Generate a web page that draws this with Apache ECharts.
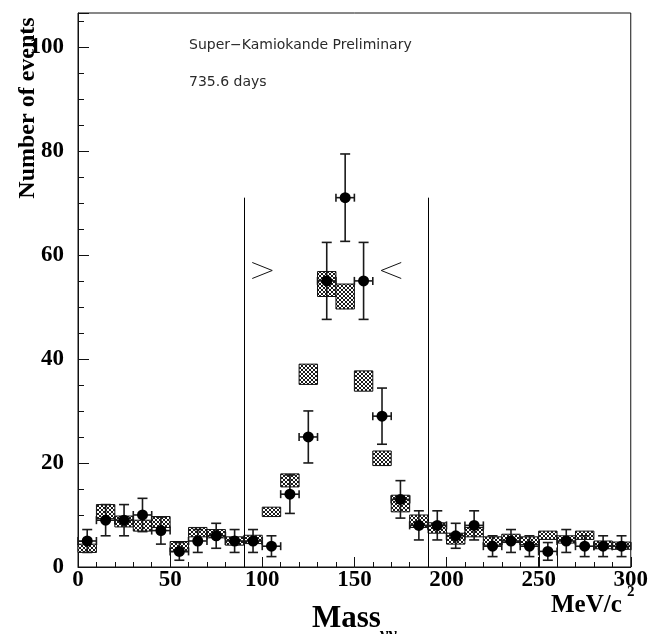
<!DOCTYPE html>
<html>
<head>
<meta charset="utf-8">
<script src="https://cdn.jsdelivr.net/npm/echarts@6/dist/echarts.min.js"></script>
<style>
html,body{margin:0;padding:0;background:#fff;}
#chart{width:651px;height:634px;}
</style>
</head>
<body>
<div id="chart"></div>
<script>
// ---- data ----
const binCenters = [5,15,25,35,45,55,65,75,85,95,105,115,125,135,145,155,165,175,185,195,205,215,225,235,245,255,265,275,285,295];
const dataCounts = [5,9,9,10,7,3,5,6,5,5,4,14,25,55,71,55,29,13,8,8,6,8,4,5,4,3,5,4,4,4];
const dataErrors = [2.2,3.0,3.0,3.2,2.6,1.7,2.2,2.4,2.2,2.2,2.0,3.7,5.0,7.4,8.4,7.4,5.4,3.6,2.8,2.8,2.4,2.8,2.0,2.2,2.0,1.7,2.2,2.0,2.0,2.0];
const mcLow  = [2.8,9.3,7.7,6.9,7.6,2.9,5.8,5.6,4.2,4.5,9.7,15.4,35.1,52.0,49.6,33.8,19.5,10.6,7.6,6.5,4.4,5.8,4.2,4.7,4.3,5.3,4.6,5.3,3.5,3.4];
const mcHigh = [4.4,12.0,9.8,9.0,9.7,4.9,7.6,7.2,5.8,6.1,11.5,17.9,39.0,56.8,54.4,37.7,22.3,13.8,10.0,8.5,6.5,7.6,5.8,6.3,5.8,6.9,6.0,6.9,5.0,4.8];
const binHalfWidth = 5;
const cutValues = [90, 190];
const cutHeight = 71;
const arrowRight = [100, 57];   // ">"
const arrowLeft  = [170, 57];   // "<"
const outlineSegs = [[50, 0, 2.9], [250, 0, 5.3], [260, 0, 5.3]];
const xTicks = [0, 50, 100, 150, 200, 250, 300];
const yTicks = [0, 20, 40, 60, 80, 100];

// ---- hatch pattern ----
function makeHatch() {
  const c = document.createElement('canvas');
  c.width = 4; c.height = 4;
  const g = c.getContext('2d');
  g.fillStyle = '#fff'; g.fillRect(0,0,4,4);
  g.fillStyle = '#1a1a1a';
  const px = [[0,0],[1,1],[2,2],[3,3],[3,0],[2,1],[1,2],[0,3]];
  px.forEach(p => g.fillRect(p[0], p[1], 1, 1));
  return c;
}
const hatch = makeHatch();

const chart = echarts.init(document.getElementById('chart'), null, {renderer: 'canvas'});
const serif = '"Liberation Serif", "Times New Roman", serif';
const ink = '#111';
const snap = v => Math.round(v) + 0.5;

const mcData = binCenters.map((c, i) => [c, mcLow[i], mcHigh[i]]);
const ptData = binCenters.map((c, i) => [c, dataCounts[i], dataErrors[i]]);

const option = {
  animation: false,
  backgroundColor: '#fff',
  grid: {left: 78, right: 19, top: 13, bottom: 67, show: true, borderColor: ink, borderWidth: 1, backgroundColor: 'transparent'},
  xAxis: {
    type: 'value', min: 0, max: 300, interval: 50,
    axisLine: {lineStyle: {color: ink, width: 1}},
    axisTick: {inside: true, length: 10, lineStyle: {color: ink, width: 1}},
    minorTick: {show: true, splitNumber: 5, length: 5, lineStyle: {color: ink, width: 1}},
    axisLabel: {fontFamily: serif, fontWeight: 'bold', fontSize: 23, color: '#000', margin: 2,
      formatter: v => xTicks.indexOf(v) >= 0 ? String(v) : ''},
    splitLine: {show: false}
  },
  yAxis: [{
    type: 'value', min: 0, max: 106.5, interval: 20,
    axisLine: {show: true, lineStyle: {color: ink, width: 1}},
    axisTick: {inside: true, length: 11, lineStyle: {color: ink, width: 1}},
    axisLabel: {fontFamily: serif, fontWeight: 'bold', fontSize: 23, color: '#000', margin: 14,
      formatter: v => yTicks.indexOf(v) >= 0 ? String(v) : ''},
    splitLine: {show: false}
  }, {
    type: 'value', min: 0, max: 106.5, interval: 5, position: 'left',
    axisLine: {show: false},
    axisTick: {inside: true, length: 6, lineStyle: {color: ink, width: 1}},
    axisLabel: {show: false},
    splitLine: {show: false}
  }],
  graphic: [
    {type: 'text', left: 189, top: 38, style: {text: 'Super\u2212Kamiokande Preliminary', font: '14px "DejaVu Sans"', fill: '#2a2a2a'}},
    {type: 'text', left: 189, top: 75, style: {text: '735.6 days', font: '14px "DejaVu Sans"', fill: '#2a2a2a'}},
    {type: 'text', x: 28, y: 108, rotation: Math.PI / 2,
      style: {text: 'Number of events', font: 'bold 24px ' + serif, fill: '#000', align: 'center', verticalAlign: 'middle'}},
    {type: 'text', left: 312, top: 603, style: {text: 'Mass', font: 'bold 31px ' + serif, fill: '#000'}},
    {type: 'text', left: 380, top: 626, style: {text: '\u03b3\u03b3', font: 'bold 18px ' + serif, fill: '#000'}},
    {type: 'text', left: 551, top: 593, style: {text: 'MeV/c', font: 'bold 25px ' + serif, fill: '#000'}},
    {type: 'text', left: 627, top: 585, style: {text: '2', font: 'bold 15px ' + serif, fill: '#000'}}
  ],
  series: [
    {
      type: 'custom', name: 'MC', xAxisIndex: 0, yAxisIndex: 0,
      data: mcData, z: 2,
      renderItem: function (params, api) {
        const c = api.value(0), lo = api.value(1), hi = api.value(2);
        const p0 = api.coord([c - binHalfWidth, hi]);
        const p1 = api.coord([c + binHalfWidth, lo]);
        return {type: 'rect', shape: {x: p0[0], y: p0[1], width: p1[0] - p0[0], height: p1[1] - p0[1]},
          style: {fill: {image: hatch, repeat: 'repeat'}, stroke: ink, lineWidth: 1}};
      }
    },
    {
      type: 'custom', name: 'outline', xAxisIndex: 0, yAxisIndex: 0,
      data: outlineSegs, z: 2,
      renderItem: function (params, api) {
        const a = api.coord([api.value(0), api.value(1)]);
        const b = api.coord([api.value(0), api.value(2)]);
        return {type: 'line', shape: {x1: snap(a[0]), y1: a[1], x2: snap(b[0]), y2: b[1]}, style: {stroke: ink, lineWidth: 1}};
      }
    },
    {
      type: 'custom', name: 'cuts', xAxisIndex: 0, yAxisIndex: 0,
      data: cutValues.map(v => [v, cutHeight]), z: 3,
      renderItem: function (params, api) {
        const a = api.coord([api.value(0), 0]);
        const b = api.coord([api.value(0), api.value(1)]);
        return {type: 'line', shape: {x1: snap(a[0]), y1: a[1], x2: snap(b[0]), y2: b[1]}, style: {stroke: '#000', lineWidth: 1}};
      }
    },
    {
      type: 'custom', name: 'arrows', xAxisIndex: 0, yAxisIndex: 0,
      data: [[arrowRight[0], arrowRight[1], 1], [arrowLeft[0], arrowLeft[1], -1]], z: 3,
      renderItem: function (params, api) {
        const p = api.coord([api.value(0), api.value(1)]);
        const d = api.value(2);
        const w = 10, h = 8;
        return {type: 'polyline', shape: {points: [[p[0] - d * w, p[1] - h], [p[0] + d * w, p[1]], [p[0] - d * w, p[1] + h]]},
          style: {stroke: ink, lineWidth: 1, fill: null}};
      }
    },
    {
      type: 'custom', name: 'data', xAxisIndex: 0, yAxisIndex: 0,
      data: ptData, z: 5,
      renderItem: function (params, api) {
        const c = api.value(0), v = api.value(1), e = api.value(2);
        const pc = api.coord([c, v]);
        const top = api.coord([c, v + e]);
        const bot = api.coord([c, Math.max(0, v - e)]);
        const l = api.coord([c - binHalfWidth, v]);
        const r = api.coord([c + binHalfWidth, v]);
        const cw = 5, st = {stroke: '#1a1a1a', lineWidth: 1.6};
        return {type: 'group', children: [
          {type: 'line', shape: {x1: pc[0], y1: top[1], x2: pc[0], y2: bot[1]}, style: st},
          {type: 'line', shape: {x1: pc[0] - cw, y1: top[1], x2: pc[0] + cw, y2: top[1]}, style: st},
          {type: 'line', shape: {x1: pc[0] - cw, y1: bot[1], x2: pc[0] + cw, y2: bot[1]}, style: st},
          {type: 'line', shape: {x1: l[0], y1: pc[1], x2: r[0], y2: pc[1]}, style: st},
          {type: 'line', shape: {x1: l[0], y1: pc[1] - 4, x2: l[0], y2: pc[1] + 4}, style: st},
          {type: 'line', shape: {x1: r[0], y1: pc[1] - 4, x2: r[0], y2: pc[1] + 4}, style: st},
          {type: 'circle', shape: {cx: pc[0], cy: pc[1], r: 5.5}, style: {fill: '#000'}}
        ]};
      }
    }
  ]
};
chart.setOption(option);
</script>
</body>
</html>
